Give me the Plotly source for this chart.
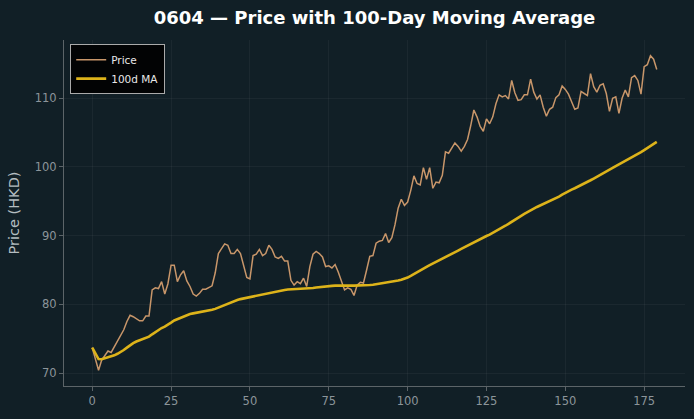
import plotly.graph_objects as go
import pandas as pd

title_text = "0604 — Price with 100-Day Moving Average"
y_label = "Price (HKD)"
series_names = ["Price", "100d MA"]
ma_window = 100

price = [
    73.7, 72.0, 70.4, 71.9, 72.6, 73.2, 73.0, 73.8, 74.6, 75.3,
    76.3, 77.5, 78.4, 78.2, 77.9, 77.6, 77.6, 78.3, 78.3, 82.1,
    82.4, 82.3, 83.3, 81.5, 83.0, 85.7, 85.7, 83.3, 84.3, 84.9,
    83.4, 82.6, 81.5, 81.2, 81.6, 82.2, 82.2, 82.4, 82.7, 84.6,
    87.4, 88.1, 88.8, 88.6, 87.4, 87.4, 88.0, 87.4, 85.7, 83.9,
    83.7, 87.1, 87.3, 88.0, 87.1, 87.4, 88.6, 88.0, 86.9, 86.7,
    87.0, 86.3, 86.3, 83.5, 82.8, 83.3, 83.0, 83.8, 82.6, 85.5,
    87.3, 87.7, 87.4, 86.9, 85.5, 85.6, 85.3, 85.8, 84.7, 83.5,
    82.1, 82.4, 82.2, 81.3, 82.8, 83.2, 83.1, 85.0, 87.0, 87.1,
    88.9, 89.2, 89.3, 90.3, 89.0, 89.7, 91.6, 94.0, 95.3, 94.4,
    94.9, 96.6, 98.7, 97.6, 97.4, 99.9, 98.2, 99.9, 96.9, 97.8,
    97.7, 98.8, 102.2, 102.0, 102.8, 103.5, 103.0, 102.3, 103.0, 104.0,
    106.0, 108.3, 107.3, 105.9, 105.2, 107.0, 106.3, 107.3, 109.2, 110.5,
    110.2, 110.4, 109.9, 112.6, 110.8, 109.7, 109.8, 110.5, 110.5, 112.8,
    110.9, 109.9, 110.5, 108.7, 107.4, 108.4, 108.7, 110.1, 110.5, 111.8,
    111.3, 110.6, 109.5, 108.4, 108.6, 111.0, 110.7, 110.4, 113.6, 111.7,
    110.9, 111.9, 112.1, 110.7, 108.1, 110.0, 110.2, 107.8, 110.0, 111.2,
    110.2, 113.0, 113.3, 112.6, 110.6, 114.6, 114.9, 116.2, 115.7, 114.2,
]
days = list(range(len(price)))
ma = pd.Series(price).rolling(ma_window, min_periods=1).mean().tolist()

x_ticks = [0, 25, 50, 75, 100, 125, 150, 175]
y_ticks = [70, 80, 90, 100, 110]

BG = "#111f26"
AXIS = "#5c6468"
TICK = "#8c959a"
GRID = "rgba(255,255,255,0.045)"

fig = go.Figure()
fig.add_trace(go.Scatter(x=days, y=price, mode="lines", name=series_names[0],
                         line=dict(color="#c8966a", width=1.5)))
fig.add_trace(go.Scatter(x=days, y=ma, mode="lines", name=series_names[1],
                         line=dict(color="#ddb31a", width=2.6)))

n = len(price) - 1
pad = n * 0.05
lo, hi = min(price + ma), max(price + ma)
ypad = (hi - lo) * 0.05

fig.update_layout(
    width=694, height=419,
    paper_bgcolor=BG, plot_bgcolor=BG,
    margin=dict(l=64, r=9, t=40, b=33),
    font=dict(family="DejaVu Sans", color=TICK, size=11.5),
    title=dict(text=f"<b>{title_text}</b>", x=(64 + 621 / 2) / 694, xanchor="center",
               y=1 - 18 / 419, yanchor="middle",
               font=dict(size=18, color="#ffffff", family="DejaVu Sans")),
    legend=dict(x=0.01, y=0.988, xanchor="left", yanchor="top",
                bgcolor="#020304", bordercolor="#aaaaaa", borderwidth=1,
                font=dict(size=10.5, color="#e8e8e8", family="DejaVu Sans"),
                tracegroupgap=0, itemwidth=30),
    showlegend=True,
    xaxis=dict(range=[-pad, n + pad], tickvals=x_ticks, showgrid=True, gridcolor=GRID,
               zeroline=False, showline=True, linecolor=AXIS, linewidth=1,
               ticks="outside", ticklen=4, tickcolor=AXIS, tickfont=dict(color=TICK, size=11.5)),
    yaxis=dict(range=[lo - ypad, hi + ypad], tickvals=y_ticks, showgrid=True, gridcolor=GRID,
               zeroline=False, showline=True, linecolor=AXIS, linewidth=1,
               ticks="outside", ticklen=4, tickcolor=AXIS, tickfont=dict(color=TICK, size=11.5),
               title=dict(text=y_label, font=dict(size=14.5, color="#b4bcc0"), standoff=11)),
)

fig.write_html("out.html")
